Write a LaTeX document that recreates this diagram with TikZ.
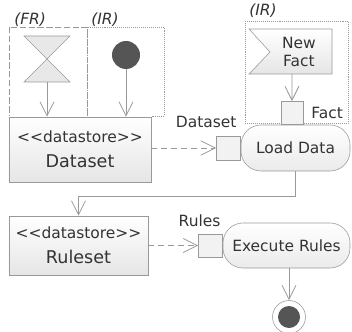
\documentclass[tikz,border=0pt]{standalone}
\usepackage{fontspec}
\setmainfont{DejaVu Sans}
\usetikzlibrary{positioning,arrows.meta,shapes}
\definecolor{linecol}{HTML}{999999}
\definecolor{ink}{HTML}{333333}
\definecolor{dotcol}{HTML}{555555}
\tikzstyle{store} = [rectangle, draw=linecol, top color=white, bottom color=black!10, text=ink, align=center, inner sep=0pt]
\tikzstyle{action} = [rectangle, rounded corners=5mm, draw=linecol, top color=white, bottom color=black!8, text=ink, inner sep=0pt]
\tikzstyle{pinbox} = [rectangle, draw=linecol, fill=black!5, minimum width=6mm, minimum height=6mm, inner sep=0pt]
\tikzstyle{lbl} = [text=ink, inner sep=0pt]
\tikzstyle{tag} = [text=ink, inner sep=0pt, font=\fontsize{11}{13}\selectfont\itshape]
\tikzstyle{conn} = [draw=linecol, line width=0.6pt, -{Straight Barb[length=3.5mm,width=3.5mm]}]
\tikzstyle{dep} = [conn, dash pattern=on 1.5mm off 1mm]
\tikzstyle{frbox} = [draw=linecol, line width=0.6pt, dash pattern=on 1.6mm off 0.6mm]
\tikzstyle{irbox} = [draw=linecol, densely dotted]
\newcommand{\namefont}{\fontsize{12.5}{15}\selectfont}

\begin{document}
\begin{tikzpicture}[x=0.25mm, y=-0.25mm, font=\fontsize{11}{13}\selectfont]
    \useasboundingbox (0,0) rectangle (352,331);
    % regions
    \draw[frbox] (9,27) rectangle (87,116);
    \draw[irbox] (87,27) rectangle (164,116);
    \draw[irbox] (245,21) rectangle (348,123);
    \node[tag, anchor=base west] (frtag) at (14,25) {(FR)};
    \node[tag, anchor=base west] (irtag) at (91,25) {(IR)};
    \node[tag, anchor=base west] (irtagb) at (249,16) {(IR)};
    % fork and initial node
    \draw[draw=linecol, fill=black!9] (24,36) -- (70,36) -- (24,82) -- (70,82) -- cycle;
    \coordinate (fork) at (47,82);
    \node[circle, fill=dotcol, minimum size=7mm, inner sep=0pt] (init) at (126,55) {};
    % data stores
    \node[store, minimum width=35.5mm, minimum height=16.25mm] (ds) at (80,149.5) {<{}<datastore>{}>\\[5pt]\namefont Dataset};
    \node[store, minimum width=34.75mm, minimum height=14.75mm] (rs) at (78.5,245.5) {<{}<datastore>{}>\\[5pt]\namefont Ruleset};
    % actions
    \node[action, minimum width=27.25mm, minimum height=11.5mm] (ld) at (295.5,148) {Load Data};
    \node[action, minimum width=31.75mm, minimum height=11.25mm] (ex) at (286.5,245.5) {Execute Rules};
    % pins
    \node[pinbox, left=0pt of ld] (dpin) {};
    \node[pinbox, minimum width=5.5mm, minimum height=5.75mm, above=0pt of ld, xshift=-0.9mm] (fpin) {};
    \node[pinbox, minimum height=5.75mm, left=0pt of ex] (rpin) {};
    \node[lbl, anchor=south east] (dlbl) at ([xshift=-1mm, yshift=2mm]dpin.north east) {Dataset};
    \node[lbl, right=2mm of fpin] (flbl) {Fact};
    \node[lbl, anchor=south east] (rlbl) at ([xshift=-0.5mm, yshift=1.75mm]rpin.north east) {Rules};
    % new fact event
    \draw[draw=linecol, top color=white, bottom color=black!10] (249,29) -- (332,29) -- (332,74) -- (249,74) -- (270,52) -- cycle;
    \node[lbl, align=center] (nf) at (299,52) {New\\Fact};
    \coordinate (nfb) at (292,74);
    % final node
    \node[circle, draw=linecol, fill=white, minimum size=8.25mm, inner sep=0pt] (fin) at (289,317) {};
    \fill[dotcol] (fin.center) circle (2.75mm);
    % flows
    \draw[conn] (fork) -- (fork |- ds.north);
    \draw[conn] (init) -- (init |- ds.north);
    \draw[conn] (nfb) -- (fpin.north);
    \draw[dep] (ds.east |- dpin) -- (dpin.west);
    \draw[conn] (ld.south) -- ++(0,25) -| (rs.north);
    \draw[dep] (rs.east) -- (rpin.west);
    \draw[conn] (ex.south -| fin) -- (fin.north);
\end{tikzpicture}
\end{document}
